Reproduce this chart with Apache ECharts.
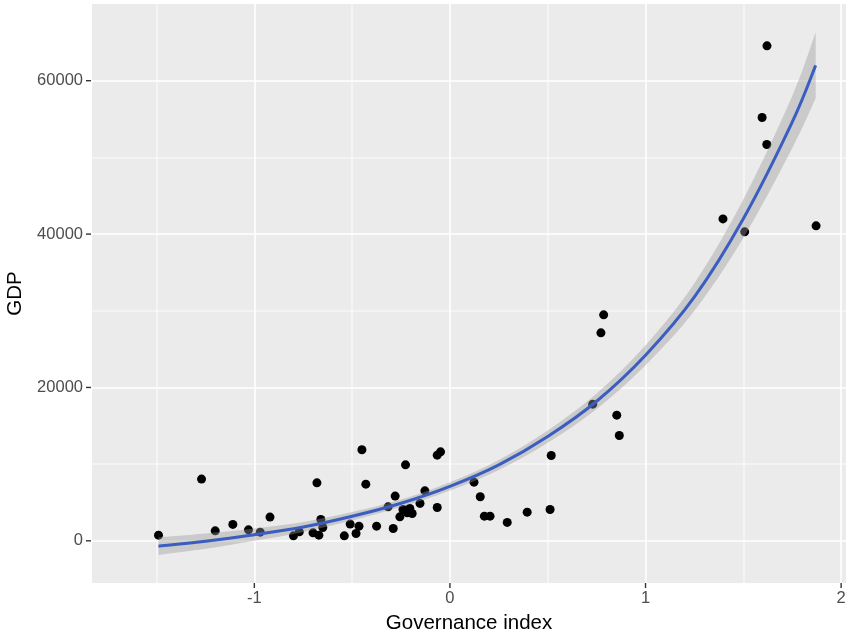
<!DOCTYPE html>
<html>
<head>
<meta charset="utf-8">
<title>GDP vs Governance index</title>
<script src="https://cdn.jsdelivr.net/npm/echarts@6/dist/echarts.min.js"></script>
<style>
html, body { margin: 0; padding: 0; background: #fff; }
#chart { width: 851px; height: 637px; }
</style>
</head>
<body>
<div id="chart"></div>
<script>
// countries: governance index / GDP
const govIndex = [-1.49, -1.27, -1.20, -1.11, -1.03, -0.97, -0.92, -0.80, -0.77, -0.70,
  -0.68, -0.67, -0.66, -0.65, -0.54, -0.51, -0.48, -0.465, -0.45, -0.43,
  -0.375, -0.316, -0.29, -0.28, -0.256, -0.24, -0.227, -0.218, -0.205, -0.193,
  -0.153, -0.128, -0.065, -0.065, -0.048, 0.123, 0.155, 0.176, 0.205, 0.293,
  0.395, 0.512, 0.518, 0.730, 0.772, 0.786, 0.853, 0.866, 1.396, 1.507,
  1.596, 1.620, 1.621, 1.872]
const gdp = [740, 8050, 1300, 2140, 1430, 1130, 3090, 650, 1170, 1040,
  7560, 740, 2790, 1740, 650, 2180, 960, 1910, 11870, 7390,
  1910, 4430, 1610, 5830, 3130, 4090, 9910, 3650, 4220, 3570,
  4880, 6520, 4350, 11170, 11600, 7650, 5740, 3220, 3220, 2400,
  3740, 4090, 11130, 17820, 27120, 29470, 16390, 13740, 41980, 40290,
  55200, 51680, 64540, 41070]

// smooth fit and its confidence band
const fitX = [-1.49, -1.25, -1, -0.75, -0.5, -0.25, 0, 0.25, 0.5, 0.75, 1, 1.25, 1.5, 1.75, 1.87]
const fitY = [-700, -50, 800, 1800, 3200, 4900, 7100, 9900, 13600, 18200, 24200, 31800, 42000, 54600, 62000]
const fitLow = [-1850, -1050, 0, 1150, 2650, 4400, 6550, 9250, 12800, 17200, 22900, 30000, 39500, 51200, 57700]
const fitHigh = [450, 950, 1600, 2450, 3750, 5400, 7650, 10550, 14400, 19200, 25500, 33600, 44500, 58000, 66300]

// axis breaks
const xBreaks = [-1, 0, 1, 2]
const xMinor = [-1.5, -0.5, 0.5, 1.5]
const yBreaks = [0, 20000, 40000, 60000]
const yMinor = [10000, 30000, 50000]

const X_MIN = -1.83, X_MAX = 2.025, X_STEP = 0.01
const Y_MIN = -5500, Y_MAX = 70000, Y_STEP = 500

const FONT = 'Liberation Sans, Arial, Helvetica, sans-serif'

function isIn(list, v, step) {
  return list.some(b => Math.abs(b - v) < step / 2)
}

// one colour per tick: white for major breaks, faint white for minor, none otherwise
function gridColors(min, max, step, major, minor) {
  const out = []
  const n = Math.round((max - min) / step)
  for (let i = 0; i <= n + 1; i++) {
    const v = min + i * step
    if (isIn(major, v, step)) out.push('#ffffff')
    else if (isIn(minor, v, step)) out.push('rgba(255,255,255,0.55)')
    else out.push('rgba(0,0,0,0)')
  }
  return out
}

// catmull-rom through pixel points -> cubic segments
function curveTo(p) {
  let d = ''
  for (let i = 0; i < p.length - 1; i++) {
    const p0 = p[i - 1] || p[i]
    const p1 = p[i]
    const p2 = p[i + 1]
    const p3 = p[i + 2] || p[i + 1]
    const c1 = [p1[0] + (p2[0] - p0[0]) / 6, p1[1] + (p2[1] - p0[1]) / 6]
    const c2 = [p2[0] - (p3[0] - p1[0]) / 6, p2[1] - (p3[1] - p1[1]) / 6]
    d += ' C' + c1.join(',') + ' ' + c2.join(',') + ' ' + p2.join(',')
  }
  return d
}

function renderBand(params, api) {
  const up = fitX.map((x, i) => api.coord([x, fitHigh[i]]))
  const lo = fitX.map((x, i) => api.coord([x, fitLow[i]])).reverse()
  const d = 'M' + up[0].join(',') + curveTo(up) +
    ' L' + lo[0].join(',') + curveTo(lo) + ' Z'
  return {
    type: 'path',
    shape: { pathData: d },
    style: { fill: 'rgba(153,153,153,0.4)', stroke: null }
  }
}

function renderFit(params, api) {
  const pts = fitX.map((x, i) => api.coord([x, fitY[i]]))
  return {
    type: 'path',
    shape: { pathData: 'M' + pts[0].join(',') + curveTo(pts) },
    style: { fill: null, stroke: '#3A5DBF', lineWidth: 3 }
  }
}

const points = govIndex.map((x, i) => [x, gdp[i]])

const chart = echarts.init(document.getElementById('chart'))

const option = {
  animation: false,
  backgroundColor: '#ffffff',
  grid: {
    left: 92,
    right: 5,
    top: 4,
    bottom: 54,
    outerBoundsMode: 'none',
    show: true,
    backgroundColor: '#EBEBEB',
    borderWidth: 0
  },
  xAxis: {
    type: 'value',
    min: X_MIN,
    max: X_MAX,
    interval: X_STEP,
    name: 'Governance index',
    nameLocation: 'middle',
    nameGap: 30,
    nameTextStyle: { color: '#000', fontSize: 20.5, fontFamily: FONT },
    axisLine: { show: false, onZero: false },
    axisTick: { show: false },
    splitLine: {
      show: true,
      showMaxLine: false,
      lineStyle: { width: 1.6, color: gridColors(X_MIN, X_MAX, X_STEP, xBreaks, xMinor) }
    },
    axisLabel: {
      margin: 0,
      formatter: v => isIn(xBreaks, v, X_STEP) ? '{t|}\n{v|' + Math.round(v) + '}' : '',
      rich: {
        t: { width: 1.4, height: 5, lineHeight: 5, backgroundColor: '#333333', align: 'center' },
        v: { fontSize: 16.5, lineHeight: 20, color: '#4D4D4D', fontFamily: FONT, align: 'center' }
      }
    }
  },
  yAxis: {
    type: 'value',
    min: Y_MIN,
    max: Y_MAX,
    interval: Y_STEP,
    name: 'GDP',
    nameLocation: 'middle',
    nameRotate: 90,
    nameGap: 60,
    nameTextStyle: { color: '#000', fontSize: 20.5, fontFamily: FONT },
    axisLine: { show: false, onZero: false },
    axisTick: { show: false },
    splitLine: {
      show: true,
      showMaxLine: false,
      lineStyle: { width: 1.6, color: gridColors(Y_MIN, Y_MAX, Y_STEP, yBreaks, yMinor) }
    },
    axisLabel: {
      margin: 1,
      formatter: v => isIn(yBreaks, v, Y_STEP) ? '{v|' + Math.round(v) + '}{t|}' : '',
      rich: {
        v: { fontSize: 16.5, color: '#4D4D4D', fontFamily: FONT, padding: [0, 3, 0, 0] },
        t: { width: 5, height: 1.4, backgroundColor: '#333333' }
      }
    }
  },
  series: [
    {
      name: 'countries',
      type: 'scatter',
      z: 2,
      symbol: 'circle',
      symbolSize: 9,
      itemStyle: { color: '#000000', opacity: 1 },
      data: points
    },
    {
      name: 'band',
      type: 'custom',
      z: 3,
      silent: true,
      renderItem: renderBand,
      data: [[fitX[0], fitY[0]]]
    },
    {
      name: 'fit',
      type: 'custom',
      z: 4,
      silent: true,
      renderItem: renderFit,
      data: [[fitX[0], fitY[0]]]
    }
  ]
}

chart.setOption(option)
</script>
</body>
</html>
